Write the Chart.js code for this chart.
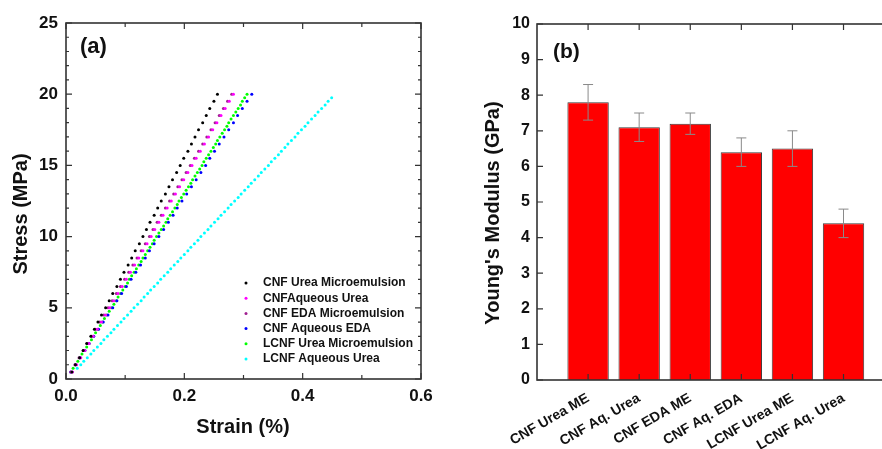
<!DOCTYPE html>
<html lang="en">
<head>
<meta charset="UTF-8">
<title>Stress-strain curves and Young's modulus</title>
<script src="https://cdn.jsdelivr.net/npm/chart.js"></script>
<style>
  body { margin: 0; width: 882px; height: 449px; overflow: hidden; background: #fff; position: relative; }
  #left { position: absolute; left: 0; top: 0; }
  #right { position: absolute; left: 440px; top: 0; }
</style>
</head>
<body>
<canvas id="left" width="440" height="449"></canvas>
<canvas id="right" width="473" height="449"></canvas>
<script>
// ---- panel (a): stress / strain ----
const stressHalf = [0.5, 1, 1.5, 2, 2.5, 3, 3.5, 4, 4.5, 5, 5.5, 6, 6.5, 7, 7.5, 8, 8.5, 9, 9.5, 10,
  10.5, 11, 11.5, 12, 12.5, 13, 13.5, 14, 14.5, 15, 15.5, 16, 16.5, 17, 17.5, 18, 18.5, 19, 19.5, 20];
const stressQuarter = [0.75, 1, 1.25, 1.5, 1.75, 2, 2.25, 2.5, 2.75, 3, 3.25, 3.5, 3.75, 4, 4.25, 4.5, 4.75, 5,
  5.25, 5.5, 5.75, 6, 6.25, 6.5, 6.75, 7, 7.25, 7.5, 7.75, 8, 8.25, 8.5, 8.75, 9, 9.25, 9.5, 9.75, 10,
  10.25, 10.5, 10.75, 11, 11.25, 11.5, 11.75, 12, 12.25, 12.5, 12.75, 13, 13.25, 13.5, 13.75, 14, 14.25,
  14.5, 14.75, 15, 15.25, 15.5, 15.75, 16, 16.25, 16.5, 16.75, 17, 17.25, 17.5, 17.75, 18, 18.25, 18.5,
  18.75, 19, 19.25, 19.5, 19.75, 20];

const strainUreaME = [0.010, 0.016, 0.023, 0.029, 0.035, 0.042, 0.048, 0.054, 0.060, 0.067, 0.073, 0.079,
  0.086, 0.092, 0.098, 0.105, 0.111, 0.117, 0.124, 0.130, 0.136, 0.142, 0.149, 0.155, 0.161, 0.168, 0.174,
  0.180, 0.187, 0.193, 0.199, 0.206, 0.212, 0.218, 0.224, 0.231, 0.237, 0.243, 0.250, 0.256];
const strainAqUrea = [0.011, 0.018, 0.025, 0.032, 0.039, 0.046, 0.053, 0.060, 0.067, 0.074, 0.081, 0.088,
  0.095, 0.102, 0.109, 0.116, 0.123, 0.130, 0.137, 0.144, 0.150, 0.157, 0.164, 0.171, 0.178, 0.185, 0.192,
  0.199, 0.206, 0.213, 0.220, 0.227, 0.234, 0.241, 0.248, 0.255, 0.262, 0.269, 0.276, 0.283];
const strainEdaME = [0.008, 0.015, 0.022, 0.029, 0.036, 0.043, 0.050, 0.057, 0.064, 0.071, 0.078, 0.085,
  0.092, 0.099, 0.106, 0.113, 0.120, 0.127, 0.134, 0.141, 0.147, 0.154, 0.161, 0.168, 0.175, 0.182, 0.189,
  0.196, 0.203, 0.210, 0.217, 0.224, 0.231, 0.238, 0.245, 0.252, 0.259, 0.266, 0.273, 0.280];
const strainAqEda = [0.008, 0.016, 0.024, 0.032, 0.039, 0.047, 0.055, 0.063, 0.071, 0.079, 0.086, 0.094,
  0.102, 0.110, 0.118, 0.126, 0.134, 0.141, 0.149, 0.157, 0.165, 0.173, 0.181, 0.188, 0.196, 0.204, 0.212,
  0.220, 0.228, 0.236, 0.243, 0.251, 0.259, 0.267, 0.275, 0.283, 0.290, 0.298, 0.306, 0.314];
const strainLcnfUreaME = [0.012, 0.016, 0.020, 0.023, 0.027, 0.031, 0.035, 0.039, 0.043, 0.046, 0.050, 0.054,
  0.058, 0.062, 0.065, 0.069, 0.073, 0.077, 0.081, 0.085, 0.088, 0.092, 0.096, 0.100, 0.104, 0.107, 0.111,
  0.115, 0.119, 0.123, 0.127, 0.130, 0.134, 0.138, 0.142, 0.146, 0.149, 0.153, 0.157, 0.161, 0.165, 0.169,
  0.172, 0.176, 0.180, 0.184, 0.188, 0.191, 0.195, 0.199, 0.203, 0.207, 0.211, 0.214, 0.218, 0.222, 0.226,
  0.230, 0.233, 0.237, 0.241, 0.245, 0.249, 0.253, 0.256, 0.260, 0.264, 0.268, 0.272, 0.275, 0.279, 0.283,
  0.287, 0.291, 0.295, 0.298, 0.302, 0.306];
const strainLcnfAqUrea = [0.019, 0.025, 0.030, 0.036, 0.042, 0.047, 0.053, 0.059, 0.064, 0.070, 0.076, 0.081,
  0.087, 0.093, 0.098, 0.104, 0.110, 0.115, 0.121, 0.127, 0.132, 0.138, 0.143, 0.149, 0.155, 0.160, 0.166,
  0.172, 0.177, 0.183, 0.189, 0.194, 0.200, 0.206, 0.211, 0.217, 0.223, 0.228, 0.234, 0.240, 0.245, 0.251,
  0.257, 0.262, 0.268, 0.274, 0.279, 0.285, 0.291, 0.296, 0.302, 0.308, 0.313, 0.319, 0.325, 0.330, 0.336,
  0.342, 0.347, 0.353, 0.359, 0.364, 0.370, 0.375, 0.381, 0.387, 0.392, 0.398, 0.404, 0.409, 0.415, 0.421,
  0.426, 0.432, 0.438, 0.443, 0.449];

const seriesNames = ['CNF Urea Microemulsion', 'CNFAqueous Urea', 'CNF EDA Microemulsion',
  'CNF Aqueous EDA', 'LCNF Urea Microemulsion', 'LCNF Aqueous Urea'];
const seriesColors = ['#000000', '#ff00ff', '#a01f90', '#0000ff', '#00ff00', '#00ffff'];

// ---- panel (b): modulus ----
const categories = ['CNF Urea ME', 'CNF Aq. Urea', 'CNF EDA ME', 'CNF Aq. EDA', 'LCNF Urea ME', 'LCNF Aq. Urea'];
const modulus = [7.8, 7.1, 7.2, 6.4, 6.5, 4.4];
const modulusErr = [0.5, 0.4, 0.3, 0.4, 0.5, 0.4];

const FONT = '"Liberation Sans", Arial, sans-serif';
const INK = '#111';

function pairs(xs, ys) {
  return xs.map((x, i) => ({ x: x, y: ys[i] }));
}

// frame + inward tick marks on all four sides
const framePlugin = {
  id: 'frame',
  afterDraw(chart, args, opts) {
    const { ctx, chartArea: a } = chart;
    const xs = chart.scales.x, ys = chart.scales.y;
    ctx.save();
    ctx.strokeStyle = '#333';
    ctx.lineWidth = 1.2;
    ctx.beginPath();
    xs.ticks.forEach((t, i) => {
      const blank = t.label === '' || t.label == null;
      if (blank && opts.skipBlankX) return;
      const len = blank ? opts.minorX : opts.majorX;
      const px = xs.getPixelForTick(i);
      ctx.moveTo(px, a.bottom); ctx.lineTo(px, a.bottom - len);
      ctx.moveTo(px, a.top); ctx.lineTo(px, a.top + len);
    });
    ys.ticks.forEach((t, i) => {
      const blank = t.label === '' || t.label == null;
      const len = blank ? opts.minorY : opts.majorY;
      const py = ys.getPixelForTick(i);
      ctx.moveTo(a.left, py); ctx.lineTo(a.left + len, py);
      ctx.moveTo(a.right, py); ctx.lineTo(a.right - len, py);
    });
    ctx.stroke();
    ctx.lineWidth = 1.6;
    ctx.strokeRect(a.left, a.top, a.right - a.left, a.bottom - a.top);
    ctx.restore();
  }
};

// free text: axis titles, panel letters
const textPlugin = {
  id: 'texts',
  afterDraw(chart, args, opts) {
    const ctx = chart.ctx;
    opts.items.forEach(it => {
      ctx.save();
      ctx.fillStyle = INK;
      ctx.font = it.font;
      ctx.textAlign = it.align || 'center';
      ctx.textBaseline = 'middle';
      ctx.translate(it.x, it.y);
      if (it.rot) ctx.rotate(it.rot);
      ctx.fillText(it.text, 0, 0);
      ctx.restore();
    });
  }
};

// legend drawn inside the plot area
const dotLegendPlugin = {
  id: 'dotLegend',
  afterDraw(chart, args, opts) {
    const { ctx, chartArea: a } = chart;
    ctx.save();
    ctx.font = 'bold 12px ' + FONT;
    ctx.textBaseline = 'middle';
    chart.data.datasets.forEach((ds, i) => {
      const y = a.top + opts.top + i * opts.step;
      ctx.fillStyle = ds.backgroundColor;
      ctx.beginPath();
      ctx.arc(a.left + opts.markX, y, 1.5, 0, Math.PI * 2);
      ctx.fill();
      ctx.fillStyle = INK;
      ctx.fillText(ds.label, a.left + opts.textX, y);
    });
    ctx.restore();
  }
};

const errorBarPlugin = {
  id: 'errorBars',
  afterDatasetsDraw(chart, args, opts) {
    const { ctx } = chart;
    const ys = chart.scales.y;
    const meta = chart.getDatasetMeta(0);
    const vals = chart.data.datasets[0].data;
    ctx.save();
    ctx.strokeStyle = '#8a8a8a';
    ctx.lineWidth = 1;
    ctx.beginPath();
    meta.data.forEach((bar, i) => {
      const v = vals[i], e = opts.errors[i];
      if (v == null || e == null) return;
      const t = ys.getPixelForValue(v + e), b = ys.getPixelForValue(v - e);
      ctx.moveTo(bar.x, t); ctx.lineTo(bar.x, b);
      ctx.moveTo(bar.x - 5, t); ctx.lineTo(bar.x + 5, t);
      ctx.moveTo(bar.x - 5, b); ctx.lineTo(bar.x + 5, b);
    });
    ctx.stroke();
    ctx.restore();
  }
};

const tickFont = { family: FONT, size: 17, weight: 'bold' };
const noGrid = { display: false, drawTicks: false, tickLength: 0 };

// ---------- chart (a) ----------
const strainSets = [strainUreaME, strainAqUrea, strainEdaME, strainAqEda, strainLcnfUreaME, strainLcnfAqUrea];
const stressSets = [stressHalf, stressHalf, stressHalf, stressHalf, stressQuarter, stressQuarter];

new Chart(document.getElementById('left'), {
  type: 'scatter',
  data: {
    datasets: seriesNames.map((name, i) => ({
      label: name,
      data: pairs(strainSets[i], stressSets[i]),
      backgroundColor: seriesColors[i],
      borderColor: seriesColors[i],
      pointRadius: 1.5,
      pointBorderWidth: 0
    }))
  },
  options: {
    responsive: false,
    animation: false,
    layout: { padding: { top: 23, right: 19, left: 0, bottom: 0 } },
    plugins: {
      legend: { display: false },
      tooltip: { enabled: false },
      frame: { majorX: 6, minorX: 4, majorY: 6, minorY: 3, skipBlankX: false },
      dotLegend: { markX: 180, textX: 197, top: 260, step: 15.2 },
      texts: {
        items: [
          { text: 'Stress (MPa)', x: 21, y: 214, rot: -Math.PI / 2, font: 'bold 20px ' + FONT },
          { text: 'Strain (%)', x: 243, y: 427, font: 'bold 20px ' + FONT },
          { text: '(a)', x: 80, y: 47, align: 'left', font: 'bold 22px ' + FONT }
        ]
      }
    },
    scales: {
      x: {
        type: 'linear', min: 0, max: 0.6,
        grid: noGrid, border: { display: false },
        afterFit(s) { s.height = 70; },
        ticks: {
          stepSize: 0.1, padding: 7, color: INK, font: tickFont, maxRotation: 0,
          callback(v) { const k = Math.round(v * 10); return k % 2 === 0 ? (k / 10).toFixed(1) : ''; }
        }
      },
      y: {
        min: 0, max: 25,
        grid: noGrid, border: { display: false },
        afterFit(s) { s.width = 66; },
        ticks: {
          stepSize: 1, padding: 8, color: INK, font: tickFont, autoSkip: false,
          callback(v) { return v % 5 === 0 ? String(v) : ''; }
        }
      }
    }
  },
  plugins: [framePlugin, dotLegendPlugin, textPlugin]
});

// ---------- chart (b) ----------
new Chart(document.getElementById('right'), {
  type: 'bar',
  data: {
    labels: [''].concat(categories, ['']),
    datasets: [{
      data: [null].concat(modulus, [null]),
      backgroundColor: '#ff0000',
      borderColor: '#3a3a3a',
      borderWidth: 1,
      barPercentage: 0.81,
      categoryPercentage: 1
    }]
  },
  options: {
    responsive: false,
    animation: false,
    layout: { padding: { top: 24, right: 8, left: 0, bottom: 0 } },
    plugins: {
      legend: { display: false },
      tooltip: { enabled: false },
      frame: { majorX: 6, minorX: 0, majorY: 6, minorY: 6, skipBlankX: true },
      errorBars: { errors: [null].concat(modulusErr, [null]) },
      texts: {
        items: [
          { text: "Young's Modulus (GPa)", x: 53, y: 213, rot: -Math.PI / 2, font: 'bold 20px ' + FONT },
          { text: '(b)', x: 113, y: 52, align: 'left', font: 'bold 21px ' + FONT }
        ]
      }
    },
    scales: {
      x: {
        offset: false,
        grid: Object.assign({ offset: false }, noGrid), border: { display: false },
        afterFit(s) { s.height = 69; },
        ticks: {
          autoSkip: false, minRotation: 30, maxRotation: 30, padding: 10,
          color: INK, font: { family: FONT, size: 14, weight: 'bold' }
        }
      },
      y: {
        min: 0, max: 10,
        grid: noGrid, border: { display: false },
        afterFit(s) { s.width = 97; },
        ticks: { stepSize: 1, padding: 7, color: INK, font: { family: FONT, size: 16, weight: 'bold' } }
      }
    }
  },
  plugins: [framePlugin, errorBarPlugin, textPlugin]
});
</script>
</body>
</html>
